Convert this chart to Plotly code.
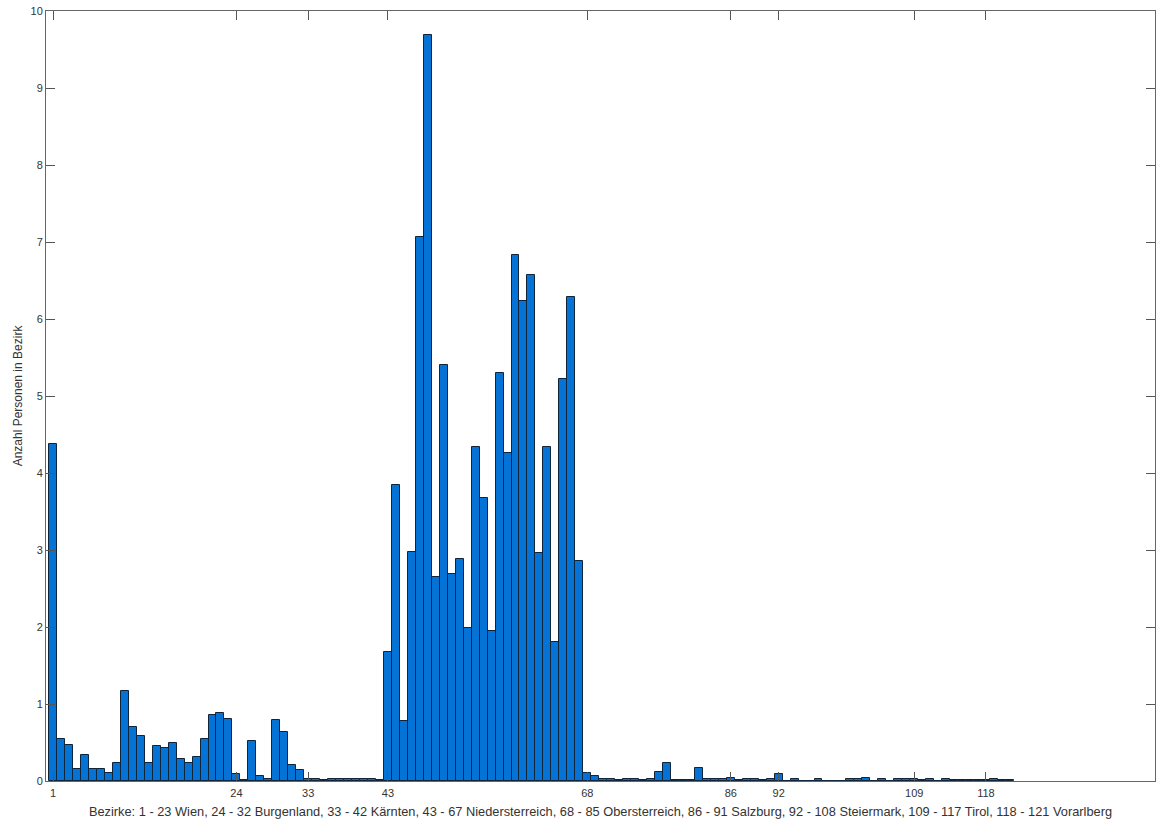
import plotly.graph_objects as go

# District numbers 1..121 and mean number of persons per district
bezirk = list(range(1, 122))

wien = [4.38, 0.55, 0.47, 0.15, 0.34, 0.16, 0.16, 0.11, 0.23, 1.17,
        0.70, 0.58, 0.24, 0.45, 0.43, 0.49, 0.28, 0.23, 0.31, 0.54,
        0.86, 0.88, 0.81]
burgenland = [0.09, 0.01, 0.52, 0.06, 0.03, 0.79, 0.64, 0.21, 0.14]
kaernten = [0.03, 0.02, 0.01, 0.02, 0.02, 0.03, 0.02, 0.02, 0.02, 0.01]
niederoesterreich = [1.68, 3.84, 0.78, 2.97, 7.07, 9.69, 2.65, 5.40, 2.69, 2.88,
                     1.99, 4.34, 3.67, 1.95, 5.30, 4.26, 6.83, 6.24, 6.57, 2.96,
                     4.34, 1.80, 5.22, 6.29, 2.86]
oberoesterreich = [0.11, 0.06, 0.03, 0.03, 0.01, 0.03, 0.03, 0.01, 0.02, 0.12,
                   0.24, 0.01, 0.01, 0.01, 0.17, 0.02, 0.03, 0.02]
salzburg = [0.04, 0.01, 0.03, 0.02, 0.01, 0.02]
steiermark = [0.09, 0.005, 0.03, 0.005, 0.005, 0.03, 0.005, 0.005, 0.005, 0.02,
              0.03, 0.04, 0.005, 0.02, 0.005, 0.02, 0.03]
tirol = [0.02, 0.01, 0.02, 0.005, 0.02, 0.01, 0.01, 0.01, 0.01]
vorarlberg = [0.01, 0.02, 0.01, 0.01]

anzahl = (wien + burgenland + kaernten + niederoesterreich + oberoesterreich
          + salzburg + steiermark + tirol + vorarlberg)

x_ticks = [1, 24, 33, 43, 68, 86, 92, 109, 118]
y_ticks = list(range(0, 11))

x_title = ("Bezirke: 1 - 23 Wien, 24 - 32 Burgenland, 33 - 42 Kärnten, "
           "43 - 67 Niedersterreich, 68 - 85 Obersterreich, 86 - 91 Salzburg, "
           "92 - 108 Steiermark, 109 - 117 Tirol, 118 - 121 Vorarlberg")
y_title = "Anzahl Personen in Bezirk"

fig = go.Figure(
    go.Bar(
        x=bezirk,
        y=anzahl,
        width=1,
        marker=dict(color="#0573D6", line=dict(color="#10243a", width=1)),
    )
)

font_family = "Liberation Sans, Arial, sans-serif"
axis_font = dict(family=font_family, size=11, color="#333333")

fig.update_layout(
    width=1156,
    height=823,
    margin=dict(l=46, r=1, t=11, b=42),
    paper_bgcolor="white",
    plot_bgcolor="white",
    bargap=0,
    showlegend=False,
    font=axis_font,
)

fig.update_xaxes(
    range=[0.12, 139.2],
    tickmode="array",
    tickvals=x_ticks,
    ticktext=[str(v) for v in x_ticks],
    ticks="inside",
    ticklen=9,
    tickcolor="#555555",
    showline=True,
    linecolor="#666666",
    linewidth=1,
    mirror="ticks",
    showgrid=False,
    zeroline=False,
    tickfont=axis_font,
    ticklabelstandoff=2,
    title=dict(text=x_title, font=dict(family=font_family, size=12.8, color="#333333"),
               standoff=8),
    automargin=False,
)

fig.update_yaxes(
    range=[0, 10],
    tickmode="array",
    tickvals=y_ticks,
    ticks="inside",
    ticklen=9,
    tickcolor="#555555",
    showline=True,
    linecolor="#666666",
    linewidth=1,
    mirror="ticks",
    showgrid=False,
    zeroline=False,
    tickfont=axis_font,
    title=dict(text=y_title, font=dict(family=font_family, size=12, color="#333333"),
               standoff=5),
    automargin=False,
)

fig.write_html("out.html")
